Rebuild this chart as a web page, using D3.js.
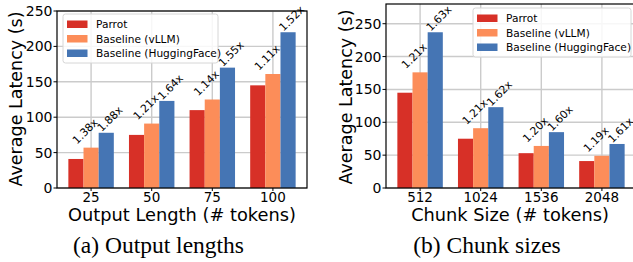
<!DOCTYPE html>
<html>
<head>
<meta charset="utf-8">
<script src="https://cdn.jsdelivr.net/npm/d3@7.9.0/dist/d3.min.js"></script>
<style>
  body { margin: 0; background: #fff; }
  svg text { font-family: "DejaVu Sans", sans-serif; fill: #000; }
</style>
</head>
<body>
<svg id="chart" width="633" height="262"></svg>
<script>
const seriesNames = ['Parrot', 'Baseline (vLLM)', 'Baseline (HuggingFace)'];
const colors = ['#d73027', '#fc8d59', '#4575b4'];

// (a) output lengths
const lenCats = ['25', '50', '75', '100'];
const lenParrot = [41, 75, 110, 145];
const lenVllm = [57, 91, 125, 161];
const lenHf = [78, 123, 170, 220];
const lenVllmRatio = ['1.38x', '1.21x', '1.14x', '1.11x'];
const lenHfRatio = ['1.88x', '1.64x', '1.55x', '1.52x'];
const lenTicks = [0, 50, 100, 150, 200, 250];

// (b) chunk sizes
const chunkCats = ['512', '1024', '1536', '2048'];
const chunkParrot = [145, 75, 53, 41];
const chunkVllm = [176, 91, 64, 49];
const chunkHf = [237, 123, 85, 67];
const chunkVllmRatio = ['1.21x', '1.21x', '1.20x', '1.19x'];
const chunkHfRatio = ['1.63x', '1.62x', '1.60x', '1.61x'];
const chunkTicks = [0, 50, 100, 150, 200, 250];

const svg = d3.select('#chart');

function drawPanel(p) {
  const g = svg.append('g');
  const x = d3.scaleLinear().domain([-0.5625, 3.5625]).range([p.left, p.right]);
  const y = d3.scaleLinear().domain([0, p.ymax]).range([p.bottom, p.top]);
  const bw = x(0.25) - x(0);

  // grid
  g.selectAll('.hg').data(p.ticks).enter().append('line')
    .attr('x1', p.left).attr('x2', p.right)
    .attr('y1', d => y(d)).attr('y2', d => y(d))
    .attr('stroke', '#cbcbcb').attr('stroke-width', 1.4);
  g.selectAll('.vg').data(p.cats).enter().append('line')
    .attr('x1', (d, i) => x(i)).attr('x2', (d, i) => x(i))
    .attr('y1', p.top).attr('y2', p.bottom)
    .attr('stroke', '#cbcbcb').attr('stroke-width', 1.4);

  // bars
  const series = [p.s0, p.s1, p.s2];
  series.forEach((vals, si) => {
    g.selectAll('.b' + si).data(vals).enter().append('rect')
      .attr('x', (d, i) => x(i + (si - 1) * 0.25 - 0.125))
      .attr('width', bw)
      .attr('y', d => y(d))
      .attr('height', d => y(0) - y(d))
      .attr('fill', colors[si]);
  });

  // ratio labels (rotated)
  const labelSets = [[p.s1, p.r1, 1, -14, 3], [p.s2, p.r2, 2, -4.5, 0.5]];
  labelSets.forEach(([vals, labs, si, dx, gap]) => {
    g.selectAll('.l' + si).data(vals).enter().append('text')
      .attr('transform', (d, i) =>
        `translate(${x(i + (si - 1) * 0.25) + dx},${y(d) - gap}) rotate(-45)`)
      .attr('font-size', 10.8)
      .text((d, i) => labs[i]);
  });

  // frame
  g.append('rect')
    .attr('x', p.left).attr('y', p.top)
    .attr('width', p.right - p.left).attr('height', p.bottom - p.top)
    .attr('fill', 'none').attr('stroke', '#000').attr('stroke-width', 1.2);

  // y axis ticks
  g.selectAll('.yt').data(p.ticks).enter().append('line')
    .attr('x1', p.left - 3.5).attr('x2', p.left)
    .attr('y1', d => y(d)).attr('y2', d => y(d))
    .attr('stroke', '#000');
  g.selectAll('.yl').data(p.ticks).enter().append('text')
    .attr('x', p.left - 4.5).attr('y', d => y(d))
    .attr('text-anchor', 'end').attr('dominant-baseline', 'central')
    .attr('font-size', 14).text(d => d);

  // x axis ticks
  g.selectAll('.xt').data(p.cats).enter().append('line')
    .attr('x1', (d, i) => x(i)).attr('x2', (d, i) => x(i))
    .attr('y1', p.bottom).attr('y2', p.bottom + 3)
    .attr('stroke', '#000');
  g.selectAll('.xl').data(p.cats).enter().append('text')
    .attr('x', (d, i) => x(i)).attr('y', p.bottom + 13.5)
    .attr('text-anchor', 'middle')
    .attr('font-size', 13.5).text(d => d);

  // titles
  g.append('text').attr('x', p.xTitleX).attr('y', 221)
    .attr('text-anchor', 'middle').attr('font-size', 17.8).text(p.xTitle);
  g.append('text')
    .attr('transform', `translate(${p.yTitleX},${p.yTitleY}) rotate(-90)`)
    .attr('text-anchor', 'middle').attr('font-size', 17.5).text('Average Latency (s)');
  g.append('text').attr('x', p.capX).attr('y', 253)
    .attr('text-anchor', 'middle')
    .style('font-family', '"Liberation Serif", "Times New Roman", serif')
    .attr('font-size', 23.5).text(p.caption);

  // legend
  const lg = g.append('g').attr('transform', `translate(${p.legX},${p.legY})`);
  lg.append('rect').attr('width', p.legW).attr('height', 49).attr('rx', 2.5)
    .attr('fill', '#fff').attr('fill-opacity', 0.85)
    .attr('stroke', '#d6d6d6').attr('stroke-width', 1);
  seriesNames.forEach((name, i) => {
    lg.append('rect').attr('x', 4).attr('y', 10 + i * 14.5 - 3.5)
      .attr('width', 20.5).attr('height', 7.5).attr('fill', colors[i]);
    lg.append('text').attr('x', 33).attr('y', 10 + i * 14.5)
      .attr('dominant-baseline', 'central').attr('font-size', 10.6).text(name);
  });
}

drawPanel({
  left: 57, right: 307, top: 11, bottom: 188, ymax: 250, ticks: lenTicks,
  cats: lenCats, s0: lenParrot, s1: lenVllm, s2: lenHf, r1: lenVllmRatio, r2: lenHfRatio,
  xTitle: 'Output Length (# tokens)', xTitleX: 182, yTitleX: 22, yTitleY: 99,
  caption: '(a) Output lengths', capX: 158.5, legX: 63, legY: 14, legW: 155
});

drawPanel({
  left: 386, right: 636, top: 4, bottom: 188, ymax: 280, ticks: chunkTicks,
  cats: chunkCats, s0: chunkParrot, s1: chunkVllm, s2: chunkHf, r1: chunkVllmRatio, r2: chunkHfRatio,
  xTitle: 'Chunk Size (# tokens)', xTitleX: 510, yTitleX: 351.5, yTitleY: 97,
  caption: '(b) Chunk sizes', capX: 487, legX: 473, legY: 8, legW: 158
});
</script>
</body>
</html>
